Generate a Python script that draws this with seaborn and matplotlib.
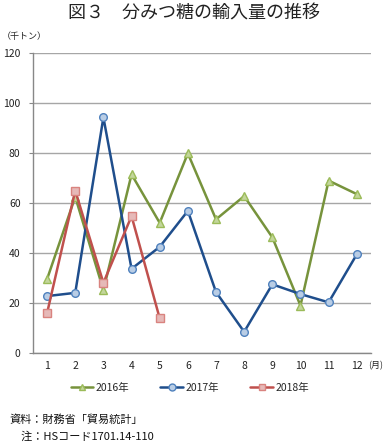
import numpy as np
import pandas as pd
import matplotlib
matplotlib.use("Agg")
import matplotlib.pyplot as plt
from matplotlib.lines import Line2D
import seaborn as sns

# 月別輸入量（千トン）
months = list(range(1, 13))
y2016 = [29.6, 62.5, 25.2, 71.5, 52.1, 79.9, 53.5, 62.8, 46.3, 19.0, 69.0, 63.6]
y2017 = [22.8, 24.1, 94.3, 33.7, 42.5, 56.9, 24.4, 8.5, 27.5, 23.6, 20.3, 39.5]
y2018 = [16.0, 65.0, 28.1, 54.8, 13.9]
labels = ["2016年", "2017年", "2018年"]

sns.set_theme(style="white")
plt.rcParams['font.family'] = ['Noto Sans CJK JP', 'DejaVu Sans']

series = [
    (labels[0], y2016, "#77933C", "^", "#C3D69B", "#9BBB59"),
    (labels[1], y2017, "#1F4E8C", "o", "#B9CDE5", "#4F81BD"),
    (labels[2], y2018, "#C0504D", "s", "#E6B9B8", "#D9837F"),
]

fig = plt.figure(figsize=(3.87, 4.43), dpi=100)
ax = fig.add_axes([0.0853, 0.203, 0.873, 0.677])

handles = []
for name, vals, lc, mk, mfc, mec in series:
    df = pd.DataFrame({"month": months[:len(vals)], "value": vals})
    sns.lineplot(data=df, x="month", y="value", ax=ax, color=lc, linewidth=1.8,
                 marker=mk, markersize=6 if mk != "o" else 5.5,
                 markerfacecolor=mfc, markeredgecolor=mec, markeredgewidth=1,
                 zorder=3)
    handles.append(Line2D([0], [0], color=lc, linewidth=1.8, marker=mk,
                          markersize=5, markerfacecolor=mfc,
                          markeredgecolor=mec, label=name))

ax.set_xlim(0.5, 12.5)
ax.set_ylim(0, 120)
ax.set_yticks(range(0, 121, 20))
ax.set_xticks(months)
ax.set_xticks(np.arange(0.5, 13, 1), minor=True)
ax.tick_params(axis="x", which="major", length=0, labelsize=7.5, pad=6, colors="#222222")
ax.tick_params(axis="x", which="minor", length=3, width=0.8, color="#888888", direction="out")
ax.tick_params(axis="y", length=3, width=0.8, color="#888888", direction="out",
               labelsize=7.5, pad=6, labelcolor="#222222")
ax.tick_params(axis="both", bottom=True, left=True)
ax.set_xlabel("")
ax.set_ylabel("")
ax.yaxis.grid(True, color="#A6A6A6", linewidth=1)
ax.xaxis.grid(False)
for s in ["top", "right"]:
    ax.spines[s].set_visible(False)
for s in ["left", "bottom"]:
    ax.spines[s].set_color("#888888")
    ax.spines[s].set_linewidth(1)
ax.set_axisbelow(True)

fig.text(0.5, 0.97, "図３　分みつ糖の輸入量の推移", ha="center", va="center",
         fontsize=13, color="#222222")
fig.text(0.005, 0.918, "（千トン）", ha="left", va="center", fontsize=6.5, color="#222222")
fig.text(0.952, 0.174, "(月)", ha="left", va="center", fontsize=6.5, color="#222222")

fig.legend(handles=handles, loc="center", bbox_to_anchor=(0.49, 0.124), ncol=3,
           frameon=False, fontsize=7.5, handlelength=2.2, columnspacing=3.0,
           handletextpad=0.2)

fig.text(0.025, 0.052, "資料：財務省「貿易統計」", ha="left", va="center",
         fontsize=8, color="#111111")
fig.text(0.025, 0.014, "　注：HSコード1701.14-110", ha="left", va="center",
         fontsize=8, color="#111111")

fig.savefig("out.png", dpi=100)
